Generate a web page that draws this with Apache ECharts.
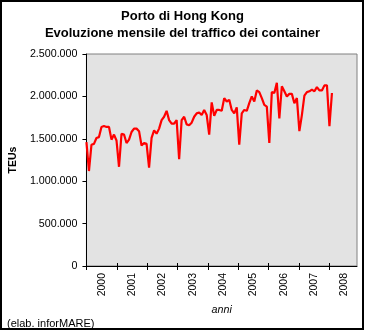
<!DOCTYPE html>
<html>
<head>
<meta charset="utf-8">
<script src="https://cdn.jsdelivr.net/npm/echarts@6/dist/echarts.min.js"></script>
<style>
  html, body { margin: 0; padding: 0; background: #ffffff; }
  #chart { width: 365px; height: 331px; }
</style>
</head>
<body>
<div id="chart"></div>
<script>
// Monthly container throughput of the port of Hong Kong (TEU)
const years = ['2000', '2001', '2002', '2003', '2004', '2005', '2006', '2007', '2008'];

const teu2000 = [1460000, 1120000, 1430000, 1440000, 1510000, 1520000, 1640000, 1650000, 1640000, 1640000, 1490000, 1550000];
const teu2001 = [1480000, 1170000, 1560000, 1550000, 1450000, 1490000, 1580000, 1620000, 1620000, 1590000, 1420000, 1450000];
const teu2002 = [1440000, 1160000, 1510000, 1600000, 1560000, 1620000, 1720000, 1760000, 1830000, 1720000, 1680000, 1680000];
const teu2003 = [1720000, 1260000, 1720000, 1760000, 1670000, 1660000, 1690000, 1760000, 1800000, 1810000, 1780000, 1840000];
const teu2004 = [1780000, 1550000, 1930000, 1770000, 1840000, 1840000, 1830000, 1980000, 1940000, 1960000, 1840000, 1800000];
const teu2005 = [1870000, 1430000, 1800000, 1840000, 1830000, 1920000, 2000000, 1940000, 2070000, 2050000, 1980000, 1900000];
const teu2006 = [1880000, 1450000, 2050000, 2040000, 2160000, 1740000, 2120000, 2060000, 2000000, 2030000, 2030000, 1920000];
const teu2007 = [1980000, 1590000, 1780000, 2010000, 2050000, 2060000, 2080000, 2060000, 2110000, 2070000, 2070000, 2130000];
const teu2008 = [2130000, 1650000, 2040000];

const yTicks = [0, 500000, 1000000, 1500000, 2000000, 2500000];

const monthNames = ['01', '02', '03', '04', '05', '06', '07', '08', '09', '10', '11', '12'];

// one category per month of the years shown on the axis
const axisMonths = [];
years.forEach(y => monthNames.forEach(m => axisMonths.push(y + '-' + m)));
// monthly slots used to place the series (runs one step past the last axis month)
const seriesMonths = axisMonths.concat(['2009-01']);

const teuSeries = [].concat(teu2000, teu2001, teu2002, teu2003, teu2004, teu2005, teu2006, teu2007, teu2008);

const FONT = "'Liberation Sans', Arial, sans-serif";
const dotted = v => String(v).replace(/\B(?=(\d{3})+(?!\d))/g, '.');
const isYearStart = i => i % 12 === 0;
const isMidYear = i => i % 12 === 6;

const titleStyle = { fontFamily: FONT, fontSize: 13, fontWeight: 'bold', color: '#000', lineHeight: 17 };

const chart = echarts.init(document.getElementById('chart'), null, { renderer: 'canvas' });

chart.setOption({
  animation: false,
  backgroundColor: '#ffffff',
  textStyle: { fontFamily: FONT },
  title: [
    { text: 'Porto di Hong Kong', left: 'center', top: 7.7, padding: 0, textStyle: titleStyle },
    { text: 'Evoluzione mensile del traffico dei container', left: 'center', top: 24.8, padding: 0, textStyle: titleStyle }
  ],
  grid: {
    left: 80, right: 8, top: 54, bottom: 65,
    show: true,
    backgroundColor: '#e3e3e3',
    borderColor: '#808080',
    borderWidth: 1
  },
  xAxis: [
    {
      type: 'category',
      data: seriesMonths,
      boundaryGap: false,
      show: false
    },
    {
      type: 'category',
      data: axisMonths,
      boundaryGap: false,
      position: 'bottom',
      name: 'anni',
      nameLocation: 'middle',
      nameGap: 26,
      nameTextStyle: { fontFamily: FONT, fontSize: 10.7, fontStyle: 'italic', color: '#000' },
      axisLine: { show: true, lineStyle: { color: '#000', width: 1 } },
      axisTick: { show: true, interval: isYearStart, length: 4, lineStyle: { color: '#000', width: 1 } },
      axisLabel: {
        interval: isMidYear,
        formatter: v => v.slice(0, 4),
        rotate: 90,
        margin: 7,
        fontFamily: FONT,
        fontSize: 10.5,
        color: '#000'
      },
      splitLine: { show: false }
    },
    {
      type: 'category',
      data: axisMonths,
      boundaryGap: false,
      position: 'bottom',
      axisLine: { show: false },
      axisTick: { show: true, inside: true, interval: isYearStart, length: 3, lineStyle: { color: '#000', width: 1 } },
      axisLabel: { show: false },
      splitLine: { show: false }
    }
  ],
  yAxis: {
    type: 'value',
    min: yTicks[0],
    max: yTicks[yTicks.length - 1],
    interval: yTicks[1] - yTicks[0],
    name: 'TEUs',
    nameLocation: 'middle',
    nameGap: 62,
    nameTextStyle: { fontFamily: FONT, fontSize: 10.5, fontWeight: 'bold', color: '#000' },
    axisLine: { show: true, lineStyle: { color: '#000', width: 1 } },
    axisTick: { show: true, length: 4, lineStyle: { color: '#000', width: 1 } },
    axisLabel: { formatter: dotted, margin: 9, fontFamily: FONT, fontSize: 10.7, color: '#000' },
    splitLine: { show: false }
  },
  series: [{
    type: 'line',
    xAxisIndex: 0,
    data: teuSeries,
    showSymbol: false,
    symbol: 'none',
    lineStyle: { color: '#ff0000', width: 2.2 },
    z: 3
  }],
  graphic: [
    {
      type: 'text',
      left: 7,
      top: 318,
      style: { text: '(elab. inforMARE)', font: "11px 'Liberation Sans', Arial, sans-serif", fill: '#000' }
    },
    {
      type: 'rect',
      shape: { x: 1, y: 1, width: 362, height: 328 },
      style: { fill: 'none', stroke: '#000', lineWidth: 2 },
      silent: true
    }
  ]
});
</script>
</body>
</html>
